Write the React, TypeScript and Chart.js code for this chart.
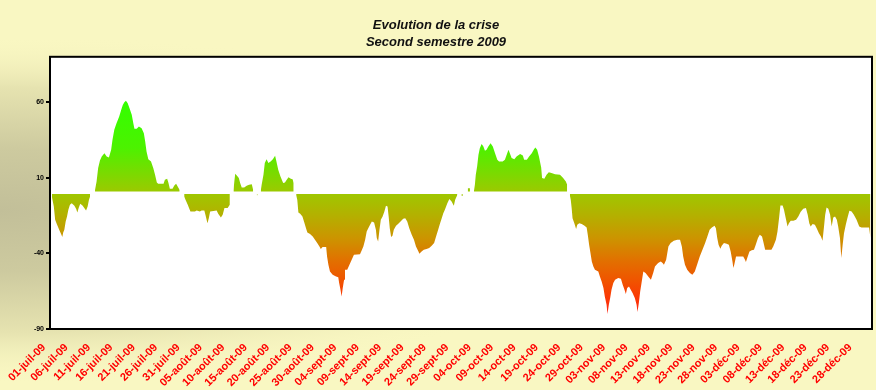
import { useEffect, useRef } from 'react';
import { Chart, registerables } from 'chart.js';

Chart.register(...registerables);

const chartTitle = ['Evolution de la crise', 'Second semestre 2009'];

const tickLabels = [
  '01-juil-09', '06-juil-09', '11-juil-09', '16-juil-09', '21-juil-09', '26-juil-09', '31-juil-09',
  '05-août-09', '10-août-09', '15-août-09', '20-août-09', '25-août-09', '30-août-09',
  '04-sept-09', '09-sept-09', '14-sept-09', '19-sept-09', '24-sept-09', '29-sept-09',
  '04-oct-09', '09-oct-09', '14-oct-09', '19-oct-09', '24-oct-09', '29-oct-09',
  '03-nov-09', '08-nov-09', '13-nov-09', '18-nov-09', '23-nov-09', '28-nov-09',
  '03-déc-09', '08-déc-09', '13-déc-09', '18-déc-09', '23-déc-09', '28-déc-09',
];
// day offset (from 01-juil-09) of each tick label
const tickDays = tickLabels.map((_, i) => i * 5);

const yTickValues = [-90, -40, 10, 60];

// [day offset from 01-juil-09, value]
const julyDip: [number, number][] = [
  [0, -3], [0.1, -4.6], [0.4, -9], [0.7, -17.8], [1.0, -20], [1.6, -24.4], [2.0, -27], [2.3, -29.2],
  [2.5, -26.2], [2.75, -24.4], [3.05, -18.9], [3.35, -15.6], [3.65, -11.2], [4.0, -7.9], [4.4, -6.8],
  [5.0, -8.5], [5.4, -10.7], [5.65, -12.9], [5.95, -10], [6.3, -7.2], [6.8, -8.3], [7.2, -10],
  [7.6, -11.6], [7.95, -9], [8.25, -4.6], [8.5, -2.4],
];
const julyRally: [number, number][] = [
  [9.6, 2], [9.95, 7.5], [10.3, 16.4], [10.7, 21.4], [11.1, 24], [11.7, 26.3], [12.2, 24], [12.7, 23.4],
  [13.2, 28.5], [13.5, 35.1], [13.9, 41.7], [14.4, 46.1], [15.0, 50.5], [15.4, 54.5], [15.8, 58.2],
  [16.15, 60], [16.5, 60.9], [16.9, 59.3], [17.3, 56], [17.8, 51.6], [18.15, 46.1], [18.4, 42.4],
  [18.9, 42.4], [19.4, 43.9], [20.0, 42.8], [20.5, 39.5], [20.8, 34], [21.1, 27.4], [21.5, 22.3],
  [22.1, 20.8], [22.6, 16.4], [23.0, 12], [23.4, 6.9], [23.7, 6], [24.9, 6], [25.2, 8.7], [25.7, 9.3],
  [26.0, 6.5], [26.3, 2.7], [26.9, 2.7], [27.3, 4.9], [27.7, 6], [28.05, 4.2], [28.5, 2],
];
const augustDip: [number, number][] = [
  [29.5, -2.4], [29.8, -4.6], [30.3, -7.9], [30.65, -10.5], [30.9, -12.3], [31.9, -12.3], [32.3, -11.6],
  [33.0, -12.3], [33.4, -11.6], [34.0, -11.6], [34.3, -15.1], [34.7, -20], [35.0, -16.7], [35.3, -12.3],
  [36.75, -11.6], [37.1, -13.8], [37.7, -16.2], [38.1, -14.5], [38.5, -10], [39.2, -10], [39.7, -7.9],
];
const augustRally: [number, number][] = [
  [40.5, 1.6], [40.7, 7.5], [40.9, 12.6], [41.3, 11.3], [41.7, 9.8], [42.0, 6.5], [42.35, 3.6],
  [42.9, 3.6], [43.45, 4.7], [44.0, 5.4], [44.6, 5.8], [44.9, 2],
];
const lateAugustDip: [number, number][] = [[45.7, -1.5], [45.9, -1.5]];
const lateAugustRally: [number, number][] = [
  [46.6, 1.5], [46.8, 5.4], [47.2, 12], [47.5, 19.7], [47.9, 22.3], [48.3, 19.7], [48.8, 20.8],
  [49.3, 22.3], [49.8, 24.5], [50.1, 20.8], [50.5, 15.3], [51.0, 10.8], [51.6, 6.5], [52.0, 6.9],
  [52.4, 8.7], [52.8, 10.4], [53.3, 9.3], [53.7, 9.1], [53.95, 6.5],
];
const septemberDip: [number, number][] = [
  [54.5, -1.5], [54.75, -4.6], [55.0, -12.9], [55.4, -13.8], [55.9, -15.6], [56.25, -18.9], [56.7, -23.3],
  [57.0, -26.2], [57.6, -27.2], [58.2, -28.8], [58.7, -31], [59.2, -33.2], [59.7, -35.4], [60.0, -37.1],
  [60.4, -35.8], [61.2, -35.8], [61.4, -42], [61.7, -47.5], [62.05, -52], [62.65, -54.1], [63.4, -55.3],
  [63.9, -55.7], [64.1, -59.6], [64.4, -64], [64.65, -68.5], [64.9, -62.9], [65.2, -57.4], [65.4, -50.8],
  [65.9, -50.8], [66.4, -47.5], [66.9, -44.2], [67.4, -40.9], [68.75, -40.5], [69.1, -38.3], [69.5, -35.4],
  [69.9, -31], [70.25, -25.5], [70.6, -23.3], [71.0, -21.1], [71.4, -18.9], [71.9, -19.6], [72.3, -24.4],
  [72.5, -29.9], [72.8, -32.1], [73.1, -24.4], [73.4, -17.8], [73.8, -15.6], [74.2, -12.3], [74.55, -8.5],
  [74.9, -9], [75.15, -15.6], [75.4, -23.3], [75.7, -29.2], [76.0, -28.4], [76.3, -24.4], [76.8, -21.7],
  [77.3, -20.4], [77.8, -18.9], [78.4, -17.1], [78.85, -16.7], [79.3, -18.9], [79.75, -23.3], [80.3, -27.7],
  [80.8, -31], [81.25, -35.4], [81.8, -38.7], [82.0, -40.2], [82.5, -38.7], [83.0, -37.6], [83.6, -37.1],
  [84.2, -36.5], [84.75, -35], [85.3, -33.2], [85.7, -29.2], [86.2, -24.4], [86.6, -20.4], [87.0, -16.7],
  [87.35, -13.4], [87.7, -11.2], [88.25, -6.8], [88.7, -4.1], [89.2, -5.7], [89.7, -8.5], [90.0, -4.6],
  [90.5, -1.3],
];
const earlyOctoberDip: [number, number][] = [[91.4, -2], [91.7, -2]];
const earlyOctoberBlip: [number, number][] = [[92.8, 3], [93.3, 3]];
const octoberRally: [number, number][] = [
  [94.2, 1.5], [94.4, 5.4], [94.6, 12], [94.9, 17.4], [95.2, 25.2], [95.5, 29.6], [95.9, 32.3],
  [96.3, 30.7], [96.65, 27.8], [97.0, 28.5], [97.4, 30.7], [97.9, 32.9], [98.4, 30.7], [98.9, 26.3],
  [99.4, 21.9], [99.8, 20.8], [100.6, 20.8], [101.1, 21.9], [101.5, 25.2], [101.9, 28.5], [102.2, 26.3],
  [102.6, 23], [103.2, 22.3], [103.7, 24.1], [104.5, 25.8], [105.1, 24.7], [105.4, 21.9], [106.0, 21.9],
  [106.5, 24.1], [107.1, 26.3], [107.6, 28.9], [107.9, 30], [108.3, 28.5], [108.7, 24.1], [109.2, 16.8],
  [109.4, 9.8], [109.9, 9.3], [110.4, 12], [110.9, 13.7], [111.5, 13.1], [112.3, 12.4], [113.4, 12],
  [114.1, 9.8], [114.7, 7.5], [115.0, 5.4],
];
const novemberDecemberDip: [number, number][] = [
  [115.6, -1.5], [115.8, -4.6], [116.0, -10], [116.2, -16.7], [116.6, -20], [117.0, -23.9], [117.25, -21.1],
  [117.7, -20], [118.25, -20.6], [118.8, -21.5], [119.35, -22.9], [119.6, -27.7], [119.9, -34.3],
  [120.2, -39.8], [120.5, -45.3], [120.85, -48.6], [121.2, -50.8], [121.95, -51.9], [122.3, -55.3],
  [122.7, -58.6], [123.1, -62.9], [123.4, -68.5], [123.8, -74], [124.0, -80.1], [124.3, -74], [124.6, -69.5],
  [124.9, -64], [125.3, -59.6], [125.7, -57.4], [126.4, -56.3], [127.0, -56.8], [127.4, -60.7], [127.8, -64],
  [128.1, -66.9], [128.4, -62.9], [128.8, -61.9], [129.2, -64], [129.6, -66.2], [130.1, -69.5], [130.5, -74],
  [130.7, -78.8], [131.0, -72.8], [131.3, -65.2], [131.6, -59.6], [132.0, -52], [132.5, -53], [133.1, -55.3],
  [133.7, -57.4], [134.2, -53], [134.6, -48.6], [135.3, -46.4], [135.9, -45.3], [136.3, -46.4], [136.6, -47.5],
  [137.1, -44.2], [137.6, -35.4], [138.1, -33.2], [138.8, -31.7], [139.6, -31], [140.2, -31], [140.6, -35.4],
  [140.9, -42], [141.3, -47.5], [141.8, -50.8], [142.4, -53], [142.95, -54.1], [143.5, -52], [144.0, -47.5],
  [144.6, -42], [145.2, -37.6], [145.8, -33.2], [146.3, -28.8], [146.8, -24.4], [147.3, -22.9], [147.9, -21.7],
  [148.2, -23.3], [148.5, -29.9], [148.8, -34.3], [149.2, -36.9], [149.5, -35], [150.0, -33.2], [150.6, -33.6],
  [151.1, -34.3], [151.5, -38.7], [151.9, -45.3], [152.1, -49.7], [152.3, -47.5], [152.7, -42], [154.3, -42],
  [154.7, -44.2], [154.9, -45.7], [155.2, -43.1], [155.7, -38.7], [156.2, -38], [156.7, -37.6], [157.1, -34.3],
  [157.6, -29.9], [158.0, -27.7], [158.5, -28.8], [158.8, -32.5], [159.2, -37.6], [160.6, -37.6], [161.0, -35.4],
  [161.6, -31], [161.95, -25.5], [162.3, -16.7], [162.6, -8.3], [163.1, -8.3], [163.4, -11.2], [163.8, -16.7],
  [164.2, -22.2], [164.5, -20], [164.9, -18.4], [165.5, -18.4], [166.1, -17.8], [166.6, -15.6], [167.1, -12.7],
  [167.7, -10.5], [168.3, -10], [168.7, -14.5], [169.05, -20], [169.35, -22.2], [169.8, -20.6], [170.3, -21.1],
  [170.7, -23.3], [171.2, -26.6], [171.65, -28.8], [172.0, -31.7], [172.3, -23.3], [172.6, -14.5], [172.9, -9.7],
  [173.3, -10.5], [173.7, -14.5], [174.05, -22.2], [174.4, -16.3], [174.8, -15.6], [175.2, -17.8], [175.5, -22.2],
  [175.9, -29.9], [176.2, -43.1], [176.5, -34.3], [176.8, -26.6], [177.2, -21.1], [177.55, -16.7], [178.0, -11.8],
  [178.5, -12.3], [179.0, -14.5], [179.6, -17.8], [180.2, -22.2], [180.7, -22.9], [182.4, -22.9], [182.7, -29.9],
];

const positiveSegments = [julyRally, augustRally, lateAugustRally, earlyOctoberBlip, octoberRally];
const negativeSegments = [julyDip, augustDip, lateAugustDip, septemberDip, earlyOctoberDip, novemberDecemberDip];

const FONT = '"Liberation Sans", Arial, Helvetica, sans-serif';

function buildSeries(segments: [number, number][][]) {
  const out: { x: number; y: number | null }[] = [];
  segments.forEach((seg, i) => {
    if (i > 0) {
      const prev = segments[i - 1];
      out.push({ x: (prev[prev.length - 1][0] + seg[0][0]) / 2, y: null });
    }
    seg.forEach(([x, y]) => out.push({ x, y }));
  });
  return out;
}

const gradientStops: [number, string][] = [
  [60, '#33ff00'], [30, '#4cf200'], [0, '#9ec800'], [-15, '#b4b000'], [-30, '#cc9400'],
  [-45, '#e27000'], [-58, '#f05400'], [-68, '#fa3c04'], [-80, '#ff2410'], [-90, '#ff1010'],
];

function areaGradient(context: any) {
  const chart = context.chart;
  const { ctx, chartArea, scales } = chart;
  if (!chartArea || !scales.y) return '#9ec800';
  const top = scales.y.getPixelForValue(60);
  const bottom = scales.y.getPixelForValue(-90);
  const g = ctx.createLinearGradient(0, top, 0, bottom);
  gradientStops.forEach(([v, c]) => g.addColorStop((60 - v) / 150, c));
  return g;
}

const backgroundPlugin = {
  id: 'bgGradient',
  beforeDraw(chart: any) {
    const { ctx, width, height, chartArea } = chart;
    ctx.save();
    ctx.fillStyle = '#f9f7c2';
    ctx.fillRect(0, 0, width, height);
    ctx.save();
    ctx.translate(0, 210);
    ctx.scale(1, 175 / 650);
    const g = ctx.createRadialGradient(0, 0, 0, 0, 0, 650);
    g.addColorStop(0, '#c2bf99');
    g.addColorStop(0.35, '#cdca9f');
    g.addColorStop(0.7, '#e6e3b0');
    g.addColorStop(1, 'rgba(249,247,194,0)');
    ctx.fillStyle = g;
    ctx.fillRect(0, -650, width, 1300);
    ctx.restore();
    ctx.fillStyle = '#ffffff';
    ctx.fillRect(chartArea.left, chartArea.top, chartArea.right - chartArea.left, chartArea.bottom - chartArea.top);
    ctx.restore();
  },
};

const borderPlugin = {
  id: 'plotBorder',
  afterDatasetsDraw(chart: any) {
    const { ctx, chartArea } = chart;
    ctx.save();
    ctx.strokeStyle = '#000';
    ctx.lineWidth = 2;
    ctx.strokeRect(chartArea.left, chartArea.top, chartArea.right - chartArea.left, chartArea.bottom - chartArea.top);
    ctx.restore();
  },
};

export default function App() {
  const ref = useRef<HTMLCanvasElement | null>(null);

  useEffect(() => {
    if (!ref.current) return;
    const chart = new Chart(ref.current, {
      type: 'line',
      data: {
        datasets: [
          {
            data: buildSeries(positiveSegments) as any,
            fill: { value: 0.9 } as any,
            backgroundColor: areaGradient,
            borderWidth: 0,
            borderColor: 'rgba(0,0,0,0)',
            pointRadius: 0,
            tension: 0,
            spanGaps: false,
          },
          {
            data: buildSeries(negativeSegments) as any,
            fill: { value: -0.8 } as any,
            backgroundColor: areaGradient,
            borderWidth: 0,
            borderColor: 'rgba(0,0,0,0)',
            pointRadius: 0,
            tension: 0,
            spanGaps: false,
          },
        ],
      },
      options: {
        animation: false,
        responsive: false,
        maintainAspectRatio: false,
        parsing: false as any,
        layout: { padding: { left: 0, right: 4, top: 0, bottom: 0 } },
        plugins: {
          legend: { display: false },
          tooltip: { enabled: false },
          title: {
            display: true,
            text: chartTitle,
            color: '#111',
            font: { family: FONT, size: 13, weight: 'bold', style: 'italic', lineHeight: 1.3 },
            padding: { top: 17, bottom: 6 },
          },
        },
        scales: {
          x: {
            type: 'linear',
            min: -0.45,
            max: 183.05,
            afterBuildTicks: (scale: any) => {
              scale.ticks = tickDays.map((v) => ({ value: v }));
            },
            afterFit: (scale: any) => {
              scale.height = 61;
              scale.paddingLeft = 0;
              scale.paddingRight = 0;
            },
            ticks: {
              autoSkip: false,
              maxRotation: 45,
              minRotation: 45,
              padding: 12,
              labelOffset: -8,
              color: '#ff0000',
              font: { family: FONT, size: 11, weight: 'bold' },
              callback: (_v: any, i: number) => tickLabels[i] ?? '',
            },
            grid: { display: false, drawTicks: false },
            border: { display: false },
          },
          y: {
            type: 'linear',
            min: -90,
            max: 90,
            afterBuildTicks: (scale: any) => {
              scale.ticks = yTickValues.map((v) => ({ value: v }));
            },
            afterFit: (scale: any) => {
              scale.width = 50;
            },
            ticks: {
              color: '#000',
              padding: 2,
              font: { family: FONT, size: 7, weight: 'bold' },
            },
            grid: { drawOnChartArea: false, drawTicks: true, tickLength: 4, color: '#000', lineWidth: 2 },
            border: { display: false },
          },
        },
      },
      plugins: [backgroundPlugin, borderPlugin],
    });
    return () => chart.destroy();
  }, []);

  return (
    <div style={{ position: 'fixed', left: 0, top: 0, width: 876, height: 390 }}>
      <canvas ref={ref} width={876} height={390} style={{ width: 876, height: 390, display: 'block' }} />
    </div>
  );
}
